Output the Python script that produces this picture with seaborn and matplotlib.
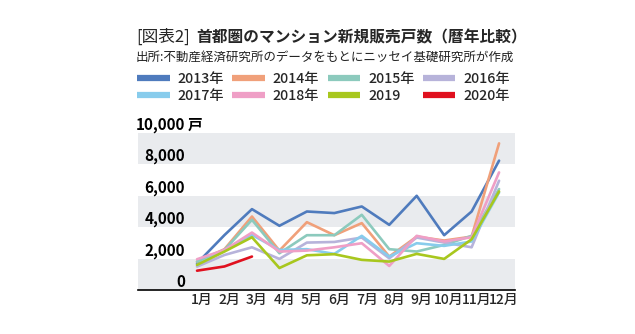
import matplotlib
matplotlib.use("Agg")
import matplotlib.pyplot as plt
import matplotlib.transforms as mtransforms
import seaborn as sns
import pandas as pd

months = ["1月", "2月", "3月", "4月", "5月", "6月", "7月", "8月", "9月", "10月", "11月", "12月"]
years = ["2013年", "2014年", "2015年", "2016年", "2017年", "2018年", "2019", "2020年"]
colors = ["#4f7bbd", "#f0a07a", "#8ccabd", "#b7b3da", "#88ccec", "#ef9fc6", "#a8c71e", "#e0101e"]

v2013 = [1700, 3500, 5150, 4090, 5000, 4900, 5320, 4150, 6000, 3490, 5000, 8240]
v2014 = [1810, 2600, 4680, 2510, 4320, 3490, 4260, 2130, 3400, 3150, 3400, 9340]
v2015 = [1810, 2550, 4470, 2340, 3490, 3490, 4790, 2600, 2450, 2870, 3450, 6430]
v2016 = [1490, 2230, 2720, 1980, 3020, 3060, 3340, 2020, 3340, 3020, 2720, 6960]
v2017 = [1600, 2550, 3510, 2550, 2600, 2300, 3450, 2130, 2980, 2810, 3090, 6210]
v2018 = [1960, 2550, 3660, 2450, 2510, 2720, 2980, 1530, 3450, 3090, 3360, 7490]
v2019 = [1600, 2450, 3360, 1400, 2210, 2280, 1920, 1810, 2300, 1980, 3230, 6280]
v2020 = [1230, 1500, 2130]

yticks = [0, 2000, 4000, 6000, 8000, 10000]
ytick_labels = ["0", "2,000", "4,000", "6,000", "8,000", "10,000"]
unit_label = "戸"

title_prefix = "[図表2]"
title_main = "首都圏のマンション新規販売戸数（暦年比較）"
subtitle = "出所:不動産経済研究所のデータをもとにニッセイ基礎研究所が作成"

series = [v2013, v2014, v2015, v2016, v2017, v2018, v2019, v2020]
rows = []
for y, vals in zip(years, series):
    for i, v in enumerate(vals):
        rows.append({"year": y, "month": i, "value": v})
df = pd.DataFrame(rows)

sns.set_style("white")
plt.rcParams["font.family"] = ["Noto Sans CJK JP", "DejaVu Sans"]

W, H = 635, 334
fig = plt.figure(figsize=(W / 100, H / 100), dpi=100)
L, R, T, B = 138, 515, 133, 290
ax = fig.add_axes([L / W, 1 - B / H, (R - L) / W, (B - T) / H])

# bands
for lo in [0, 4000, 8000]:
    ax.axhspan(lo, lo + 2000, color="#e9ebee", lw=0, zorder=0)

sns.lineplot(data=df, x="month", y="value", hue="year", hue_order=years,
             palette=colors, linewidth=1.9, ax=ax, legend=False, zorder=3)

ax.set_xlim(-2.15, 11.58)
ax.set_ylim(0, 10000)
ax.set_xlabel("")
ax.set_ylabel("")
for s in ["top", "right", "left"]:
    ax.spines[s].set_visible(False)
ax.spines["bottom"].set_color("black")
ax.spines["bottom"].set_linewidth(1.2)
ax.set_yticks([])
ax.set_xticks(range(12))
ax.set_xticklabels(months, fontsize=10, fontweight="medium")
ax.tick_params(axis="x", length=0, pad=2)
off = mtransforms.ScaledTranslation(5 / 100, 0, fig.dpi_scale_trans)
for lab in ax.get_xticklabels():
    lab.set_transform(lab.get_transform() + off)

# y tick labels inside the plot
ytr = mtransforms.blended_transform_factory(ax.transAxes, ax.transData)
yoff = mtransforms.ScaledTranslation(0, 8 / 100, fig.dpi_scale_trans)
xr = (185 - L) / (R - L)
for v, t in zip(yticks, ytick_labels):
    ax.text(xr, v, t, transform=ytr + yoff, ha="right", va="center",
            fontsize=11, fontweight="bold", color="black", zorder=5, clip_on=False)
ax.text(xr + 3 / (R - L), 10000, unit_label, transform=ytr + yoff, ha="left", va="center",
        fontsize=10.5, fontweight="bold", color="black", clip_on=False)

# titles
fig.text(136 / W, 1 - 37 / H, title_prefix, fontsize=12, va="center", ha="left")
fig.text(196 / W, 1 - 37 / H, title_main, fontsize=11.3, fontweight="bold", va="center", ha="left")
fig.text(136 / W, 1 - 57 / H, subtitle, fontsize=9.0, va="center", ha="left", color="#222222")

# legend
from matplotlib.lines import Line2D
handles = [Line2D([0], [0], color=c, lw=4.5, solid_capstyle="butt") for c in colors]
order = [0, 4, 1, 5, 2, 6, 3, 7]
leg = fig.legend([handles[i] for i in order], [years[i] for i in order], ncol=4,
                 loc="upper left", bbox_to_anchor=(137 / W, 1 - 72 / H), frameon=False,
                 fontsize=10.2, handlelength=2.3, handletextpad=0.55, columnspacing=0.6,
                 labelspacing=0.2, borderpad=0, borderaxespad=0)
for t in leg.get_texts():
    t.set_fontweight("medium")

fig.savefig("out.png", dpi=100)
